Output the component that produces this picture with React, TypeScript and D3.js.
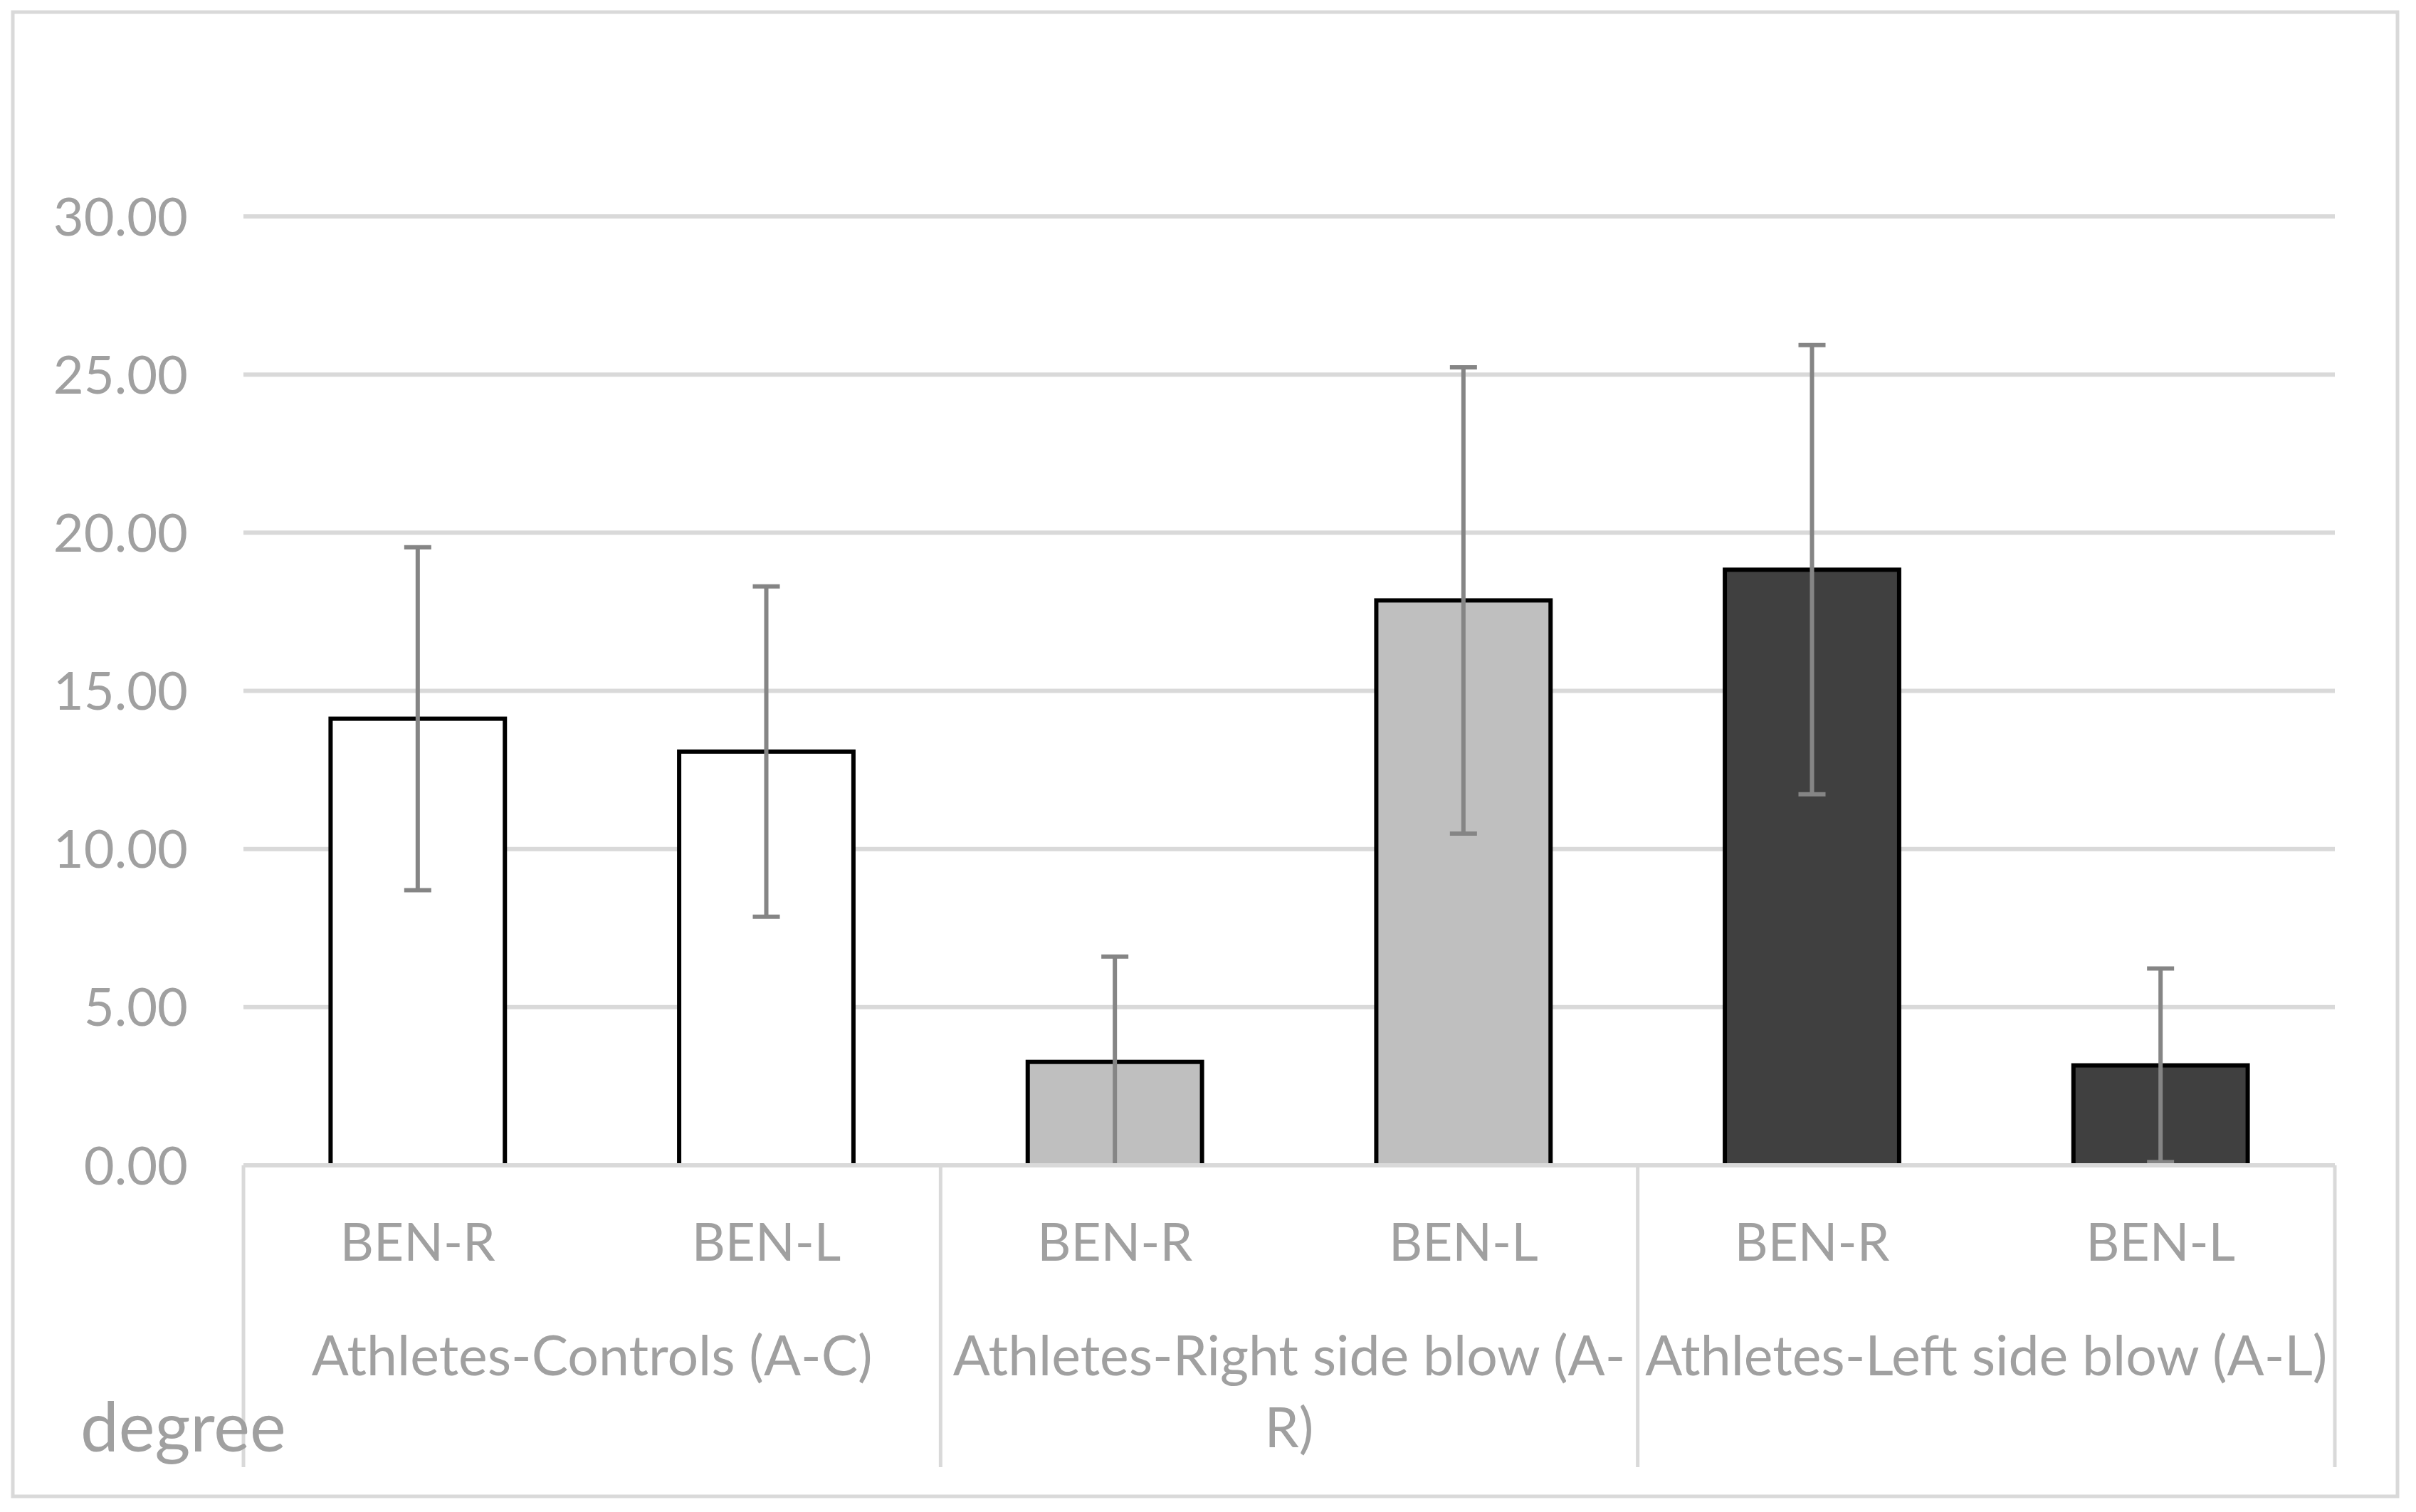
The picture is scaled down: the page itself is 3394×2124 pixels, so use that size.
import * as d3 from "d3";

// ── Data ──────────────────────────────────────────────────────
const GROUPS = ["Athletes-Controls (A-C)", "Athletes-Right side blow (A-R)", "Athletes-Left side blow (A-L)"];
// how the group labels wrap in the original (the middle one breaks after "(A-")
const GROUP_LINES = [["Athletes-Controls (A-C)"], ["Athletes-Right side blow (A-", "R)"], ["Athletes-Left side blow (A-L)"]];
const SIDES = ["BEN-R", "BEN-L"];
const MEANS = [14.12, 13.08, 3.27, 17.86, 18.83, 3.16];
const ERRORS = [5.42, 5.22, 3.33, 7.37, 7.1, 3.06];
const Y_TICKS = [0, 5, 10, 15, 20, 25, 30];
const Y_LABEL = "degree";

// ── Geometry / style ──────────────────────────────────────────
const W = 3394;
const H = 2124;
const PLOT = { left: 342, right: 3280, top: 304, bottom: 1637 };
const BOX_BOTTOM = 2061;
const FILLS = ["#ffffff", "#bfbfbf", "#404040"];
const GRID = "#d9d9d9";
const TEXT = "#a0a0a0";
const ERR = "#858585";
const FONT = "Lato, 'Open Sans', sans-serif";

export default function App() {
  const bars = GROUPS.flatMap((g, gi) =>
    SIDES.map((s, si) => ({ key: `${gi}-${si}`, group: gi, side: s, i: gi * SIDES.length + si }))
  );

  const x = d3
    .scaleBand<number>()
    .domain(bars.map((b) => b.i))
    .range([PLOT.left, PLOT.right])
    .paddingInner(0.5)
    .paddingOuter(0.25);
  const xg = d3.scaleBand<number>().domain(GROUPS.map((_, i) => i)).range([PLOT.left, PLOT.right]);
  const y = d3.scaleLinear().domain([0, 30]).range([PLOT.bottom, PLOT.top]);
  const fmt = d3.format(".2f");
  const bw = x.bandwidth();
  const capW = 38;

  return (
    <svg
      width={W}
      height={H}
      viewBox={`0 0 ${W} ${H}`}
      style={{ position: "absolute", left: 0, top: 0, background: "#fff" }}
      fontFamily={FONT}
    >
      <defs>
        <clipPath id="plot">
          <rect x={0} y={0} width={W} height={PLOT.bottom} />
        </clipPath>
      </defs>
      <rect x={0} y={0} width={W} height={H} fill="#fff" />
      {/* outer chart border */}
      <rect x={18} y={17} width={3350} height={2085} fill="none" stroke={GRID} strokeWidth={5} />

      {/* gridlines + y tick labels */}
      {Y_TICKS.map((t) => (
        <g key={t}>
          {t > 0 && (
            <line x1={PLOT.left} x2={PLOT.right} y1={y(t)} y2={y(t)} stroke={GRID} strokeWidth={6} />
          )}
          <text x={264} y={y(t)} dy="0.36em" textAnchor="end" fontSize={74} fill={TEXT}>
            {fmt(t)}
          </text>
        </g>
      ))}

      {/* bars */}
      <g clipPath="url(#plot)">
        {bars.map((b) => (
          <rect
            key={b.key}
            x={x(b.i)}
            y={y(MEANS[b.i])}
            width={bw}
            height={y(0) - y(MEANS[b.i])}
            fill={FILLS[b.group]}
            stroke="#000"
            strokeWidth={6}
          />
        ))}
        {/* error bars */}
        {bars.map((b) => {
          const cx = (x(b.i) ?? 0) + bw / 2;
          const hi = y(MEANS[b.i] + ERRORS[b.i]);
          const lo = y(MEANS[b.i] - ERRORS[b.i]);
          return (
            <g key={b.key} stroke={ERR} strokeWidth={6}>
              <line x1={cx} x2={cx} y1={hi} y2={lo} />
              <line x1={cx - capW / 2} x2={cx + capW / 2} y1={hi} y2={hi} />
              <line x1={cx - capW / 2} x2={cx + capW / 2} y1={lo} y2={lo} />
            </g>
          );
        })}
      </g>

      {/* category axis box */}
      <line x1={PLOT.left} x2={PLOT.right} y1={y(0)} y2={y(0)} stroke={GRID} strokeWidth={6} />
      {GROUPS.map((_, gi) => (
        <line
          key={gi}
          x1={xg(gi)}
          x2={xg(gi)}
          y1={y(0)}
          y2={BOX_BOTTOM}
          stroke={GRID}
          strokeWidth={5}
        />
      ))}
      <line x1={PLOT.right} x2={PLOT.right} y1={y(0)} y2={BOX_BOTTOM} stroke={GRID} strokeWidth={5} />

      {/* side labels */}
      {bars.map((b) => (
        <text
          key={b.key}
          x={(x(b.i) ?? 0) + bw / 2}
          y={1771}
          textAnchor="middle"
          fontSize={73}
          fill={TEXT}
        >
          {b.side}
        </text>
      ))}

      {/* group labels */}
      {GROUP_LINES.map((lines, gi) => (
        <text
          key={gi}
          x={(xg(gi) ?? 0) + xg.bandwidth() / 2}
          y={1932}
          textAnchor="middle"
          fontSize={77}
          fill={TEXT}
        >
          {lines.map((l, li) => (
            <tspan key={li} x={(xg(gi) ?? 0) + xg.bandwidth() / 2} dy={li === 0 ? 0 : 101}>
              {l}
            </tspan>
          ))}
        </text>
      ))}

      {/* axis title */}
      <text x={113} y={2039} fontSize={96} fill={TEXT}>
        {Y_LABEL}
      </text>
    </svg>
  );
}
